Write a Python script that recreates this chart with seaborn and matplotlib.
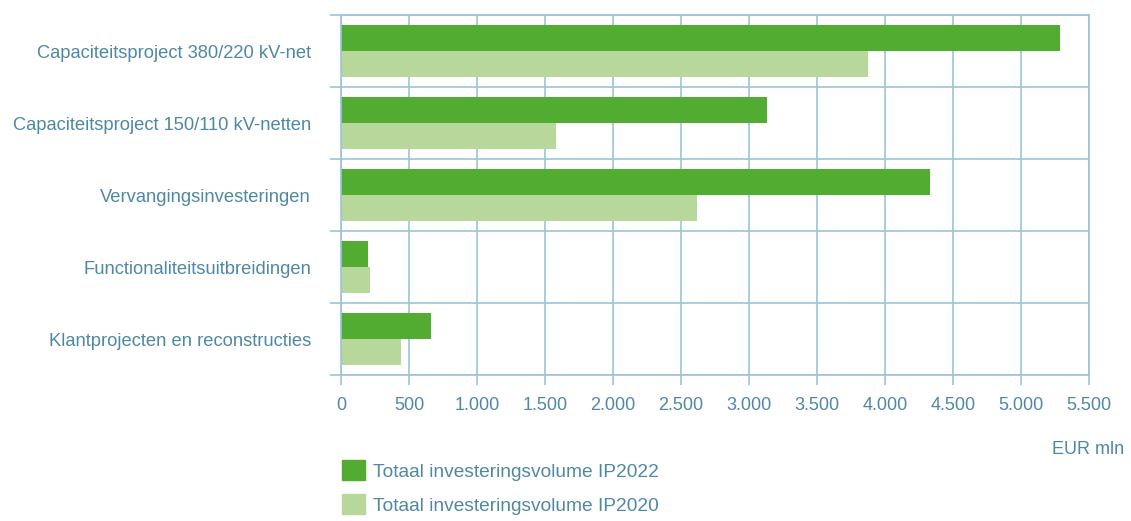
import matplotlib.pyplot as plt
import matplotlib.patches as mpatches
import seaborn as sns
import pandas as pd

# data
categories = ['Capaciteitsproject 380/220 kV-net',
              'Capaciteitsproject 150/110 kV-netten',
              'Vervangingsinvesteringen',
              'Functionaliteitsuitbreidingen',
              'Klantprojecten en reconstructies']
ip2022 = [5290, 3130, 4330, 200, 660]
ip2020 = [3875, 1580, 2620, 215, 440]
series = ['Totaal investeringsvolume IP2022', 'Totaal investeringsvolume IP2020']
xticks = [0, 500, 1000, 1500, 2000, 2500, 3000, 3500, 4000, 4500, 5000, 5500]
xtick_labels = ['0', '500', '1.000', '1.500', '2.000', '2.500', '3.000',
                '3.500', '4.000', '4.500', '5.000', '5.500']

df = pd.DataFrame({
    'cat': categories * 2,
    'value': ip2022 + ip2020,
    'serie': [series[0]] * len(categories) + [series[1]] * len(categories),
})

dark = '#52ac32'
light = '#b8d79b'
txt = '#4f88a2'
grid = '#98c5da'

sns.set_style('white')
plt.rcParams['font.family'] = ['Liberation Sans', 'DejaVu Sans']

fig = plt.figure(figsize=(11.31, 5.21), dpi=100)
ax = fig.add_axes([341 / 1131, 1 - 375 / 521, 748 / 1131, 360 / 521])

sns.barplot(data=df, y='cat', x='value', hue='serie', orient='h',
            palette=[dark, light], width=0.72, saturation=1, ax=ax,
            legend=False, linewidth=0)

ax.set_xlim(0, 5500)
ax.set_ylim(4.5, -0.5)
ax.set_xticks(xticks)
ax.set_xticklabels(xtick_labels)
ax.set_yticks(range(len(categories)))
ax.set_yticklabels(categories)
ax.set_yticks([i - 0.5 for i in range(len(categories) + 1)], minor=True)

ax.grid(True, axis='x', which='major', color=grid, lw=1.2)
ax.grid(True, axis='y', which='minor', color=grid, lw=1.2)
ax.grid(False, axis='y', which='major')
ax.set_axisbelow(True)

ax.tick_params(axis='x', which='major', bottom=True, length=7, width=1.2,
               color=grid, labelcolor=txt, labelsize=13, pad=9)
ax.tick_params(axis='y', which='major', left=False, labelcolor=txt,
               labelsize=13.2, pad=18)
ax.tick_params(axis='y', which='minor', left=True, length=8, width=1.2,
               color=grid)

for s in ['top', 'right', 'left', 'bottom']:
    ax.spines[s].set_color(grid)
    ax.spines[s].set_linewidth(1.2)

ax.set_xlabel('')
ax.set_ylabel('')

fig.text(1124 / 1131, 1 - 449 / 521, 'EUR mln', ha='right', va='center',
         color=txt, fontsize=13)

handles = [mpatches.Patch(color=dark, label=series[0]),
           mpatches.Patch(color=light, label=series[1])]
fig.legend(handles=handles, loc='upper left',
           bbox_to_anchor=(325 / 1131, 1 - 443 / 521), frameon=False,
           fontsize=13.8, labelcolor=txt, handlelength=1.17, handleheight=1.2,
           handletextpad=0.45, labelspacing=0.72)

fig.savefig('out.png', dpi=100)
